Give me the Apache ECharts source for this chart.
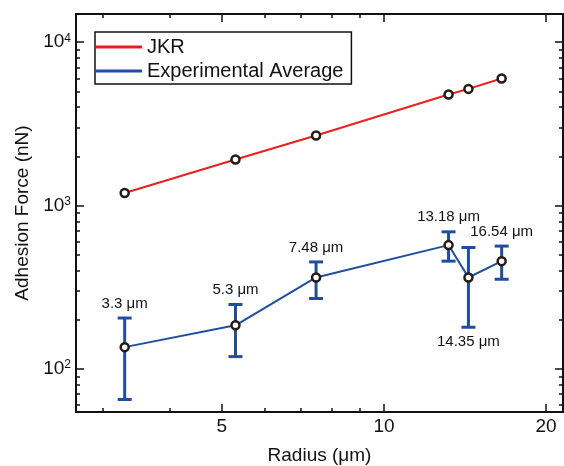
<!DOCTYPE html>
<html>
<head>
<meta charset="utf-8">
<script src="https://cdn.jsdelivr.net/npm/echarts@6/dist/echarts.min.js"></script>
<style>
html, body { margin: 0; padding: 0; background: #fff; }
#chart { width: 564px; height: 466px; }
</style>
</head>
<body>
<div id="chart"></div>
<script>
// data
const radius = [3.3, 5.3, 7.48, 13.18, 14.35, 16.54];
const jkrForce = [1195, 1914, 2685, 4786, 5182, 6000];
const expForce = [136, 185, 363, 573, 363, 457];
const expLow = [65, 119, 270, 457, 180, 354];
const expHigh = [205, 248, 452, 691, 554, 565];
const pointLabels = ['3.3 μm', '5.3 μm', '7.48 μm', '13.18 μm', '14.35 μm', '16.54 μm'];
const labelBelow = [false, false, false, false, true, false];

const xMajorTicks = [5, 10, 20];
const xMinorTicks = [3, 4, 6, 7, 8, 9];
const yMajorTicks = [100, 1000, 10000];
const yMinorTicks = [60, 70, 80, 90, 200, 300, 400, 500, 600, 700, 800, 900,
  2000, 3000, 4000, 5000, 6000, 7000, 8000, 9000];

const X_MIN = 2.68, X_MAX = 21.5;
const Y_MIN = 54.5, Y_MAX = 14890;
const FONT = 'Liberation Sans, Arial, sans-serif';
const RED = '#e8201e';
const BLUE = '#1f4e9f';

const chart = echarts.init(document.getElementById('chart'));

function xAxisDef(pos, ticks, len, showLabel, withName) {
  return {
    type: 'log',
    logBase: 10,
    position: pos,
    min: X_MIN,
    max: X_MAX,
    name: withName ? 'Radius (μm)' : '',
    nameLocation: 'middle',
    nameGap: 34,
    nameTextStyle: { fontFamily: FONT, fontSize: 19, color: '#111' },
    axisLine: { show: true, onZero: false, lineStyle: { color: '#111', width: 2 } },
    axisTick: { show: true, inside: true, length: len, customValues: ticks,
      lineStyle: { color: '#111', width: 1.5 } },
    axisLabel: { show: showLabel, customValues: ticks, margin: 5,
      fontFamily: FONT, fontSize: 19, color: '#111' },
    splitLine: { show: false },
    minorTick: { show: false }
  };
}

function yAxisDef(pos, ticks, len, showLabel, withName) {
  return {
    type: 'log',
    logBase: 10,
    position: pos,
    min: Y_MIN,
    max: Y_MAX,
    name: withName ? 'Adhesion Force (nN)' : '',
    nameLocation: 'middle',
    nameGap: 35,
    nameTextStyle: { fontFamily: FONT, fontSize: 19, color: '#111' },
    axisLine: { show: true, onZero: false, lineStyle: { color: '#111', width: 2 } },
    axisTick: { show: true, inside: true, length: len, customValues: ticks,
      lineStyle: { color: '#111', width: 1.5 } },
    axisLabel: {
      show: showLabel,
      customValues: ticks,
      margin: 5,
      fontFamily: FONT, fontSize: 19, color: '#111',
      formatter: v => '10{sup|' + Math.round(Math.log10(v)) + '}',
      rich: { sup: { fontFamily: FONT, fontSize: 12, color: '#111', verticalAlign: 'top', padding: [0, 0, 8, 0] } }
    },
    splitLine: { show: false },
    minorTick: { show: false }
  };
}

const option = {
  backgroundColor: '#fff',
  animation: false,
  grid: { left: 76, right: 1, top: 14, bottom: 54, containLabel: false, outerBoundsMode: 'none' },
  legend: {
    orient: 'vertical',
    left: 95,
    top: 32,
    padding: [5, 8, 3, 1],
    itemGap: 4,
    itemWidth: 46,
    itemHeight: 3,
    icon: 'rect',
    borderColor: '#111',
    borderWidth: 1.5,
    textStyle: { fontFamily: FONT, fontSize: 20, color: '#111' },
    data: [
      { name: 'JKR', itemStyle: { color: RED, borderWidth: 0 } },
      { name: 'Experimental Average', itemStyle: { color: BLUE, borderWidth: 0 } }
    ]
  },
  xAxis: [
    xAxisDef('bottom', xMajorTicks, 8, true, true),
    xAxisDef('bottom', xMinorTicks, 4, false, false),
    xAxisDef('top', xMajorTicks, 8, false, false),
    xAxisDef('top', xMinorTicks, 4, false, false)
  ],
  yAxis: [
    yAxisDef('left', yMajorTicks, 8, true, true),
    yAxisDef('left', yMinorTicks, 4, false, false),
    yAxisDef('right', yMajorTicks, 8, false, false),
    yAxisDef('right', yMinorTicks, 4, false, false)
  ],
  series: [
    {
      name: 'JKR',
      type: 'line',
      data: radius.map((r, i) => [r, jkrForce[i]]),
      color: RED,
      lineStyle: { color: RED, width: 2 },
      symbol: 'circle',
      symbolSize: 8,
      itemStyle: { color: '#fff', borderColor: '#231916', borderWidth: 2.5 },
      z: 5
    },
    {
      name: 'error',
      type: 'custom',
      data: radius.map((r, i) => [r, expLow[i], expHigh[i], i]),
      renderItem: function (params, api) {
        const x = api.value(0);
        const lo = api.coord([x, api.value(1)]);
        const hi = api.coord([x, api.value(2)]);
        const idx = api.value(3);
        const cap = 7;
        const st = { stroke: BLUE, lineWidth: 3 };
        const below = labelBelow[idx];
        return {
          type: 'group',
          children: [
            { type: 'line', shape: { x1: lo[0], y1: lo[1], x2: hi[0], y2: hi[1] }, style: st },
            { type: 'line', shape: { x1: lo[0] - cap, y1: lo[1], x2: lo[0] + cap, y2: lo[1] }, style: st },
            { type: 'line', shape: { x1: hi[0] - cap, y1: hi[1], x2: hi[0] + cap, y2: hi[1] }, style: st },
            {
              type: 'text',
              x: hi[0],
              y: below ? lo[1] + 7 : hi[1] - 7,
              style: {
                text: pointLabels[idx],
                fontFamily: FONT,
                fontSize: 15,
                fill: '#111',
                align: 'center',
                verticalAlign: below ? 'top' : 'bottom'
              }
            }
          ]
        };
      },
      z: 3
    },
    {
      name: 'Experimental Average',
      type: 'line',
      data: radius.map((r, i) => [r, expForce[i]]),
      color: BLUE,
      lineStyle: { color: BLUE, width: 2 },
      symbol: 'circle',
      symbolSize: 8,
      itemStyle: { color: '#fff', borderColor: '#231916', borderWidth: 2.5 },
      z: 5
    }
  ]
};

chart.setOption(option);
</script>
</body>
</html>
